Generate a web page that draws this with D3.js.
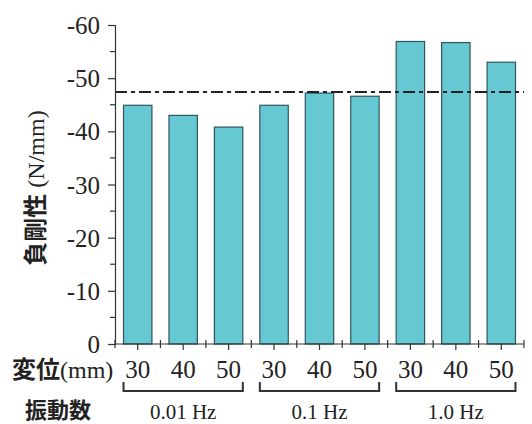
<!DOCTYPE html>
<html>
<head>
<meta charset="utf-8">
<script src="https://cdn.jsdelivr.net/npm/d3@7"></script>
<style>
  html, body { margin: 0; padding: 0; background: #fff; }
  svg { display: block; }
  .serif { font-family: "Liberation Serif", "DejaVu Serif", serif; }
  .cjk { font-family: "Noto Sans CJK JP", sans-serif; font-weight: 700; }
</style>
</head>
<body>
<svg id="chart" width="532" height="424"></svg>
<script>
const displacements = ['30', '40', '50', '30', '40', '50', '30', '40', '50'];
const frequencies = ['0.01 Hz', '0.1 Hz', '1.0 Hz'];
const stiffness = [-44.9, -43.0, -40.8, -44.9, -47.2, -46.6, -56.9, -56.7, -53.0];
const referenceLine = -47.4;
const yTicks = [0, -10, -20, -30, -40, -50, -60];

const width = 532;
const height = 424;
const margin = { top: 25, right: 8, bottom: 80, left: 115 };
const chartWidth = width - margin.left - margin.right;
const chartHeight = 344 - margin.top;

const bars = stiffness.map((value, index) => ({
  key: index,
  label: displacements[index],
  group: frequencies[Math.floor(index / 3)],
  value
}));

const svg = d3.select('#chart');
const chart = svg.append('g').attr('transform', `translate(${margin.left},${margin.top})`);

const xScale = d3.scaleBand()
  .domain(bars.map((d) => d.key))
  .range([0, chartWidth])
  .paddingInner(0.375)
  .paddingOuter(0.1875);

const yScale = d3.scaleLinear().domain([0, -60]).range([chartHeight, 0]);

// bars
chart.selectAll('.bar')
  .data(bars)
  .join('rect')
  .attr('class', 'bar')
  .attr('x', (d) => xScale(d.key))
  .attr('y', (d) => yScale(d.value))
  .attr('width', xScale.bandwidth())
  .attr('height', (d) => yScale(0) - yScale(d.value))
  .attr('fill', '#66c8d3')
  .attr('stroke', '#2f555a')
  .attr('stroke-width', 1.2);

// reference dash-dot line
chart.append('line')
  .attr('x1', 0)
  .attr('x2', chartWidth)
  .attr('y1', yScale(referenceLine))
  .attr('y2', yScale(referenceLine))
  .attr('stroke', '#222')
  .attr('stroke-width', 2)
  .attr('stroke-dasharray', '12,4,4,4');

// y axis (plain hyphen for negatives, like the original)
const yAxis = chart.append('g')
  .call(d3.axisLeft(yScale).tickValues(yTicks).tickSize(7).tickPadding(8).tickFormat((d) => String(d)));
yAxis.select('.domain').attr('stroke', '#333').attr('stroke-width', 1.2);
yAxis.selectAll('.tick line').attr('stroke', '#333').attr('stroke-width', 1.2);
yAxis.selectAll('.tick text')
  .attr('font-size', 25)
  .attr('fill', '#222')
  .attr('font-family', '"Liberation Serif", serif')
  .attr('dy', '0.34em');

// y minor ticks
chart.append('g')
  .selectAll('line')
  .data(d3.range(-5, -60, -10))
  .join('line')
  .attr('x1', -5)
  .attr('x2', 0)
  .attr('y1', (d) => yScale(d))
  .attr('y2', (d) => yScale(d))
  .attr('stroke', '#333')
  .attr('stroke-width', 1.2);

// x axis
const xAxisGroup = chart.append('g').attr('transform', `translate(0,${chartHeight})`);
xAxisGroup.append('line')
  .attr('x1', 0)
  .attr('x2', chartWidth)
  .attr('stroke', '#333')
  .attr('stroke-width', 1.2);

xAxisGroup.selectAll('.major')
  .data(bars)
  .join('line')
  .attr('class', 'major')
  .attr('x1', (d) => xScale(d.key) + xScale.bandwidth() / 2)
  .attr('x2', (d) => xScale(d.key) + xScale.bandwidth() / 2)
  .attr('y1', 0)
  .attr('y2', 6)
  .attr('stroke', '#333')
  .attr('stroke-width', 1.2);

const step = xScale.step();
xAxisGroup.selectAll('.minor')
  .data(d3.range(bars.length + 1))
  .join('line')
  .attr('class', 'minor')
  .attr('x1', (d) => d * step)
  .attr('x2', (d) => d * step)
  .attr('y1', -4)
  .attr('y2', 4)
  .attr('stroke', '#333')
  .attr('stroke-width', 1.2);

xAxisGroup.selectAll('.xlabel')
  .data(bars)
  .join('text')
  .attr('class', 'serif')
  .attr('x', (d) => xScale(d.key) + xScale.bandwidth() / 2)
  .attr('y', 34)
  .attr('text-anchor', 'middle')
  .attr('font-size', 25)
  .attr('fill', '#222')
  .text((d) => d.label);

// group brackets
frequencies.forEach((freq, index) => {
  const first = xScale(index * 3);
  const last = xScale(index * 3 + 2) + xScale.bandwidth();
  xAxisGroup.append('path')
    .attr('d', `M${first},38 V47 H${last} V38`)
    .attr('fill', 'none')
    .attr('stroke', '#333')
    .attr('stroke-width', 2);
  xAxisGroup.append('text')
    .attr('class', 'serif')
    .attr('x', (first + last) / 2)
    .attr('y', 75)
    .attr('text-anchor', 'middle')
    .attr('font-size', 21)
    .attr('fill', '#222')
    .text(freq);
});

// axis titles
const yTitle = svg.append('text')
  .attr('transform', 'translate(44,188) rotate(-90)')
  .attr('text-anchor', 'middle')
  .attr('fill', '#222');
yTitle.append('tspan').attr('class', 'cjk').attr('font-size', 24).text('負剛性');
yTitle.append('tspan').attr('class', 'serif').attr('font-size', 24).text(' (N/mm)');

const xTitle = svg.append('text')
  .attr('x', 12)
  .attr('y', 378)
  .attr('fill', '#222');
xTitle.append('tspan').attr('class', 'cjk').attr('font-size', 24).text('変位');
xTitle.append('tspan').attr('class', 'serif').attr('font-size', 24).text('(mm)');

svg.append('text')
  .attr('class', 'cjk')
  .attr('x', 25)
  .attr('y', 418)
  .attr('font-size', 22)
  .attr('fill', '#222')
  .text('振動数');
</script>
</body>
</html>
